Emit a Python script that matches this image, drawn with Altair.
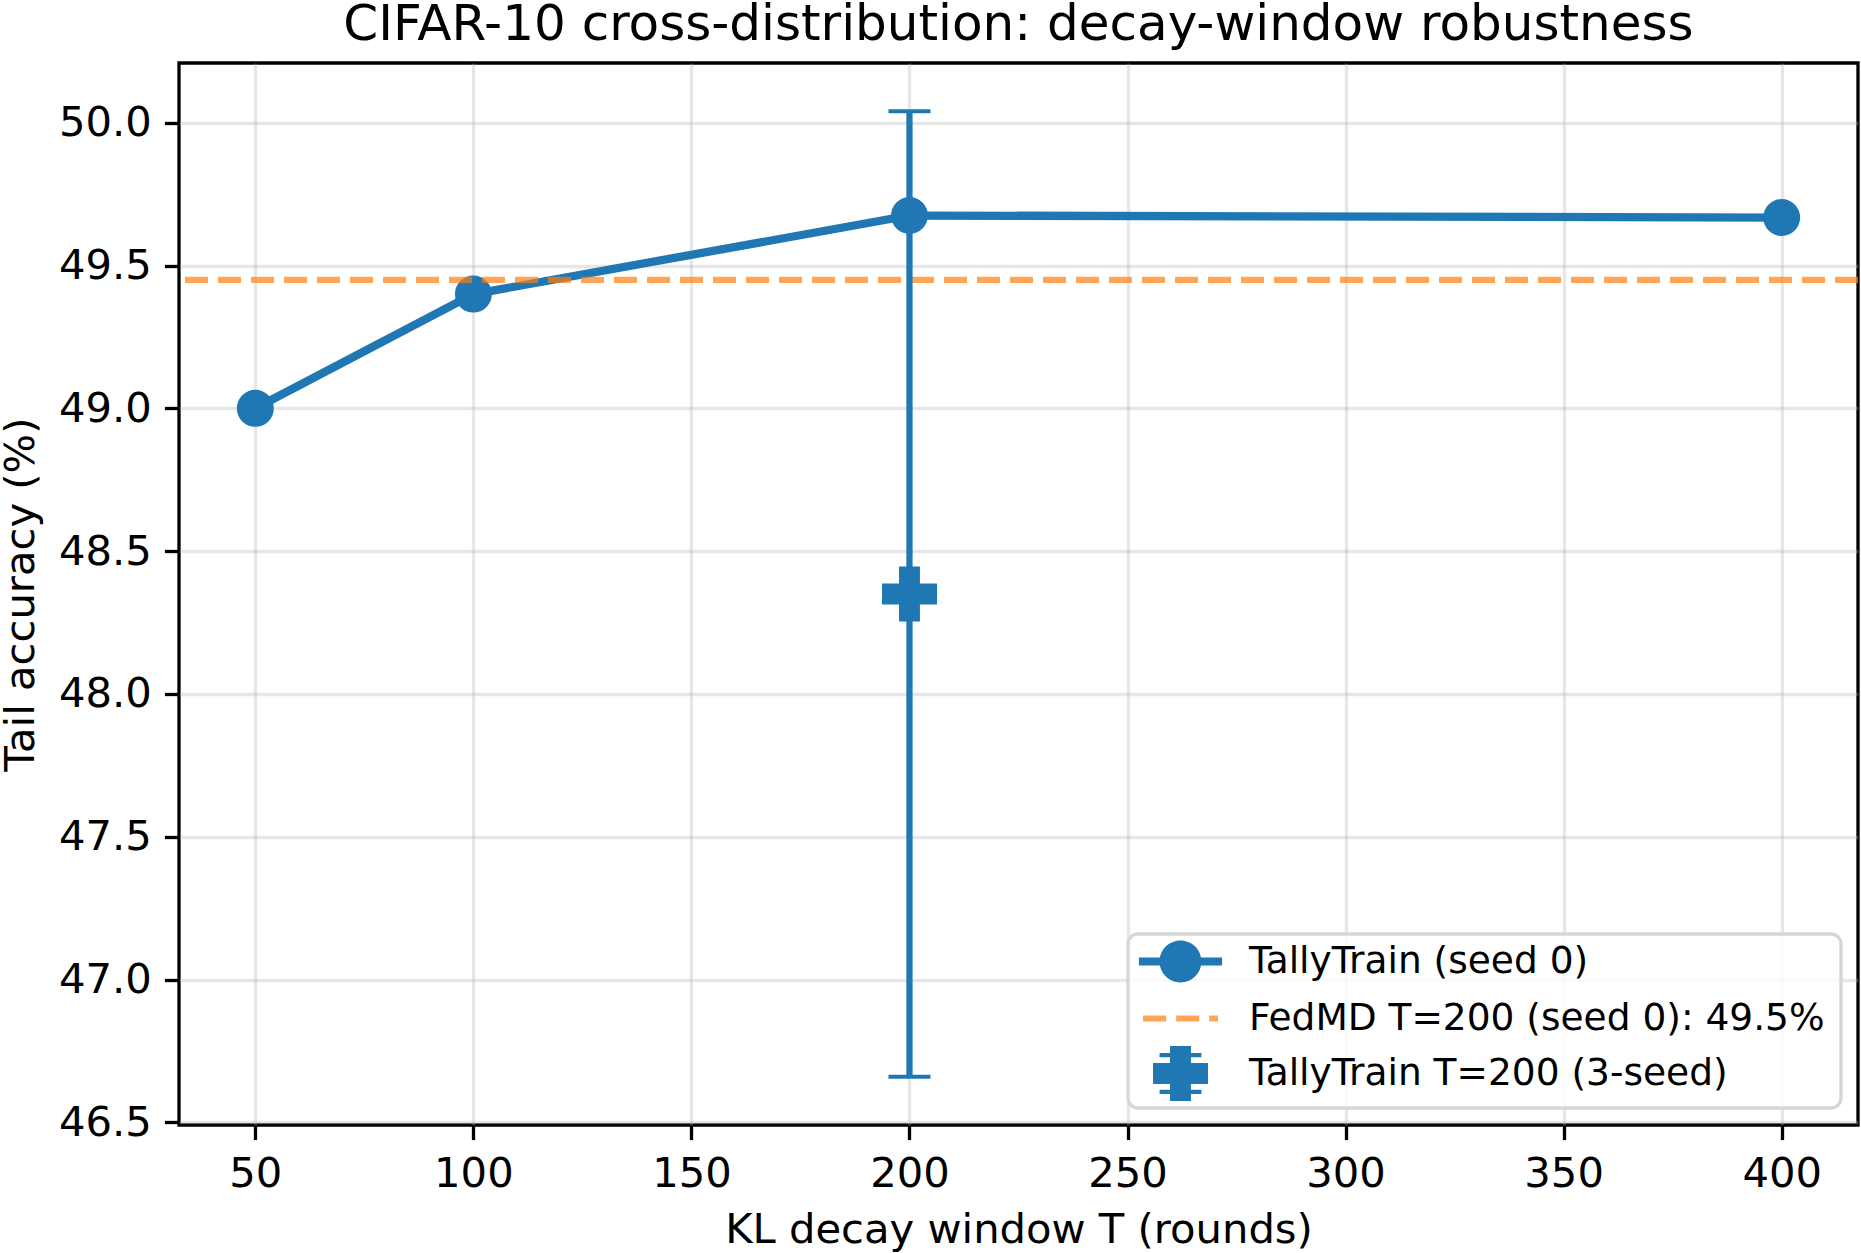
import altair as alt
import pandas as pd

# TallyTrain single-seed sweep over the KL decay window
windows = [50, 100, 200, 400]
tail_acc_seed0 = [49.00, 49.40, 49.675, 49.668]

# FedMD baseline (T=200, seed 0)
fedmd_acc = 49.45

# TallyTrain at T=200 over three seeds: mean and standard deviation
multi_window = 200
multi_mean = 48.35
multi_std = 1.69

series_names = [
    "TallyTrain (seed 0)",
    "FedMD T=200 (seed 0): 49.5%",
    "TallyTrain T=200 (3-seed)",
]

x_ticks = [50, 100, 150, 200, 250, 300, 350, 400]
y_ticks = [46.5, 47.0, 47.5, 48.0, 48.5, 49.0, 49.5, 50.0]

BLUE = "#1f77b4"
ORANGE = "#ff7f0e"
ORANGE_SOFT = "#ffa556"  # orange at 70% alpha over white
FONT = "DejaVu Sans"

# filled "plus" marker, unit square path
PLUS = "M-0.38,-1H0.38V-0.38H1V0.38H0.38V1H-0.38V0.38H-1V-0.38H-0.38Z"

# legend glyphs (unit = half of sqrt(symbolSize)); the zero-length
# segments only pad each entry's bounds so the rows sit evenly
LEG_LINE_DOT = ("M-2.03,-0.2H2.03V0.2H-2.03Z "
                "M-1.02,0A1.02,1.02,0,1,1,1.02,0A1.02,1.02,0,1,1,-1.02,0Z "
                "M0,-1.22L0,-1.22")
LEG_DASH = ("M-1.83,-0.15H-0.70V0.15H-1.83Z "
            "M-0.21,-0.15H0.91V0.15H-0.21Z "
            "M1.40,-0.15H1.83V0.15H1.40Z "
            "M0,-1.41L0,-1.41 M0,1.03L0,1.03 M31.86,0L31.86,0")
LEG_ERR = ("M-0.51,-1.34H0.51V-0.51H1.34V0.51H0.51V1.34H-0.51V0.51H-1.34V-0.51H-0.51Z "
           "M-1.02,-1.005H1.02V-0.795H-1.02Z "
           "M-1.02,0.795H1.02V1.005H-1.02Z")

sweep = pd.DataFrame({"T": windows, "acc": tail_acc_seed0})
baseline = pd.DataFrame({"acc": [fedmd_acc]})
err = pd.DataFrame({
    "T": [multi_window],
    "acc": [multi_mean - multi_std],
    "acc_hi": [multi_mean + multi_std],
})
caps = pd.DataFrame({
    "T": [multi_window, multi_window],
    "acc": [multi_mean - multi_std, multi_mean + multi_std],
})
mean_pt = pd.DataFrame({"T": [multi_window], "acc": [multi_mean]})
legend_df = pd.DataFrame({
    "series": series_names,
    "T": [multi_window] * 3,
    "acc": [multi_mean] * 3,
})

x_scale = alt.Scale(domain=[32.5, 417.5], nice=False, zero=False)
y_scale = alt.Scale(domain=[46.491, 50.209], nice=False, zero=False)

x_enc = alt.X(
    "T:Q", scale=x_scale,
    axis=alt.Axis(values=x_ticks, title="KL decay window T (rounds)",
                  labelPadding=14, titlePadding=14, format="d",
                  labelOverlap=False),
)
y_enc = alt.Y(
    "acc:Q", scale=y_scale,
    axis=alt.Axis(values=y_ticks, title="Tail accuracy (%)", format=".1f",
                  labelPadding=13, titlePadding=16, labelOverlap=False),
)

line = alt.Chart(sweep).mark_line(
    color=BLUE, strokeWidth=8.3, strokeJoin="round", strokeCap="square"
).encode(x=x_enc, y=y_enc)

dots = alt.Chart(sweep).mark_point(
    shape="circle", filled=True, size=1366, color=BLUE, opacity=1, strokeWidth=0
).encode(x="T:Q", y="acc:Q")

fedmd = alt.Chart(baseline).mark_rule(
    color=ORANGE, opacity=0.7, strokeWidth=6.25, strokeDash=[23, 10]
).encode(y="acc:Q")

err_bar = alt.Chart(err).mark_rule(color=BLUE, strokeWidth=6.25).encode(
    x="T:Q", y="acc:Q", y2="acc_hi:Q"
)

err_caps = alt.Chart(caps).mark_tick(
    color=BLUE, orient="horizontal", size=42, thickness=4.2, opacity=1
).encode(x="T:Q", y="acc:Q")

plus = alt.Chart(mean_pt).mark_point(
    shape=PLUS, filled=True, size=3025, color=BLUE, opacity=1, strokeWidth=0
).encode(x="T:Q", y="acc:Q")

leg = alt.Legend(
    title=None,
    orient="bottom-right",
    offset=17,
    labelFont=FONT,
    labelFontSize=37.5,
    labelColor="black",
    labelLimit=1000,
    symbolSize=1681,
    symbolStrokeWidth=0,
    symbolOpacity=1,
    symbolOffset=25,
    labelOffset=48,
    rowPadding=6,
)

legend_layer = alt.Chart(legend_df).mark_point(filled=True, opacity=0).encode(
    x="T:Q",
    y="acc:Q",
    color=alt.Color("series:N",
                    scale=alt.Scale(domain=series_names,
                                    range=[BLUE, ORANGE_SOFT, BLUE]),
                    legend=leg),
    shape=alt.Shape("series:N",
                    scale=alt.Scale(domain=series_names,
                                    range=[LEG_LINE_DOT, LEG_DASH, LEG_ERR]),
                    legend=leg),
)

chart = alt.layer(
    line, dots, fedmd, err_bar, err_caps, plus, legend_layer
).properties(
    width=1679,
    height=1062,
    background="white",
    padding={"left": 179, "top": 63, "right": 3, "bottom": 128},
    autosize=alt.AutoSizeParams(type="none"),
    title=alt.Title(
        "CIFAR-10 cross-distribution: decay-window robustness",
        font=FONT, fontSize=50, fontWeight="normal", color="black",
        anchor="middle", offset=13, frame="group",
    ),
).configure_view(
    stroke="black", strokeWidth=3.3
).configure_axis(
    labelFont=FONT, labelFontSize=41.7, labelColor="black",
    titleFont=FONT, titleFontSize=41.7, titleFontWeight="normal",
    titleColor="black",
    tickColor="black", tickWidth=3.3, tickSize=14.6,
    domain=False,
    grid=True, gridColor="#b0b0b0", gridOpacity=0.3, gridWidth=3.3,
).configure_legend(
    padding=7,
    fillColor="rgba(255,255,255,0.8)",
    strokeColor="#d6d6d6",
    strokeWidth=3.3,
    cornerRadius=10,
)

chart.save("out.html", embed_options={"renderer": "svg", "actions": False})
